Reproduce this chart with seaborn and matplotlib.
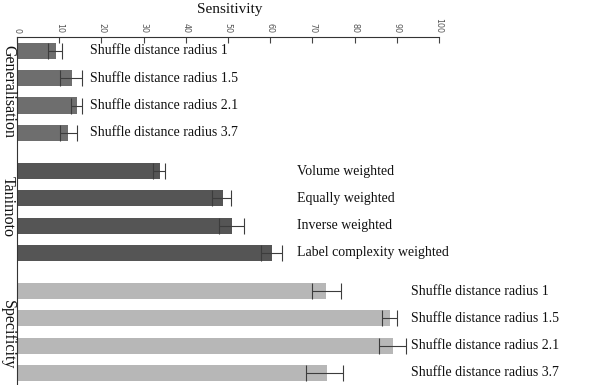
import numpy as np
import pandas as pd
import matplotlib
matplotlib.use("Agg")
import matplotlib.pyplot as plt
import matplotlib.transforms as mtransforms
import seaborn as sns

# Data
groups = ["Generalisation", "Tanimoto", "Specificity"]
gen_labels = ["Shuffle distance radius 1", "Shuffle distance radius 1.5",
              "Shuffle distance radius 2.1", "Shuffle distance radius 3.7"]
tan_labels = ["Volume weighted", "Equally weighted", "Inverse weighted",
              "Label complexity weighted"]
spec_labels = ["Shuffle distance radius 1", "Shuffle distance radius 1.5",
               "Shuffle distance radius 2.1", "Shuffle distance radius 3.7"]

gen_values = [9.2, 13.1, 14.1, 12.2]
gen_lower = [7.3, 10.3, 12.7, 10.3]
gen_upper = [10.7, 15.5, 15.5, 14.1]

tan_values = [34.0, 48.7, 51.0, 60.5]
tan_lower = [32.3, 46.3, 47.9, 57.8]
tan_upper = [35.1, 50.6, 53.9, 62.8]

spec_values = [73.3, 88.5, 89.1, 73.4]
spec_lower = [70.0, 86.4, 85.7, 68.5]
spec_upper = [76.8, 90.1, 92.2, 77.3]

x_ticks = [0, 10, 20, 30, 40, 50, 60, 70, 80, 90, 100]

# build one table, rows stacked group after group with a gap between groups
group_gap = 1.4
rows = []
for gi, (g, labs, vals, lo, hi) in enumerate([
        (groups[0], gen_labels, gen_values, gen_lower, gen_upper),
        (groups[1], tan_labels, tan_values, tan_lower, tan_upper),
        (groups[2], spec_labels, spec_values, spec_lower, spec_upper)]):
    for i in range(len(vals)):
        rows.append({"group": g, "label": labs[i], "value": vals[i],
                     "lower": lo[i], "upper": hi[i],
                     "pos": round(gi * (3 + group_gap) + i, 3)})
df = pd.DataFrame(rows)

sns.set_theme(style="white")
serif = ["Liberation Serif", "DejaVu Serif"]

fig = plt.figure(figsize=(6.07, 3.85), dpi=100)
ax = fig.add_axes([17 / 607, 0.0, 422 / 607, 1 - 37 / 385])

palette = {"Generalisation": "#6e6e6e", "Tanimoto": "#555555", "Specificity": "#b7b7b7"}
sns.barplot(data=df, x="value", y="pos", hue="group", palette=palette, orient="h",
            native_scale=True, dodge=False, width=0.59, errorbar=None,
            legend=False, saturation=1, ax=ax, edgecolor="none")

ax.errorbar(df["value"], df["pos"],
            xerr=[df["value"] - df["lower"], df["upper"] - df["value"]],
            fmt="none", ecolor="#3c3c3c", elinewidth=0.8, capsize=5.5, capthick=0.8)

# bar labels
label_x = {"Generalisation": 17.3, "Tanimoto": 66.4, "Specificity": 93.4}
for _, r in df.iterrows():
    ax.text(label_x[r["group"]], r["pos"], r["label"], ha="left", va="center",
            fontsize=10, family=serif, color="#111111", clip_on=False)

# group labels on the left, reading downwards
trans = mtransforms.blended_transform_factory(fig.transFigure, ax.transData)
shift = {"Generalisation": 0.0, "Tanimoto": -0.2, "Specificity": 0.1}
for g in groups:
    centre = df.loc[df["group"] == g, "pos"].mean() + shift[g]
    ax.text(8 / 607, centre, g, transform=trans, rotation=-90, ha="center",
            va="center", fontsize=11.5, family=serif, color="#111111", clip_on=False)

ax.set_xlim(0, 100)
ax.set_ylim(df["pos"].max() + 0.44, -0.51)
ax.set_xticks(x_ticks)
ax.set_xticklabels([str(t) for t in x_ticks], rotation=-90, fontsize=5.8, color="#555555")
ax.xaxis.tick_top()
ax.tick_params(axis="x", direction="in", length=4, width=0.8, color="#444444", pad=3, top=True)
ax.set_yticks([])
ax.set_xlabel("")
ax.set_ylabel("")
for side in ["right", "bottom"]:
    ax.spines[side].set_visible(False)
for side in ["top", "left"]:
    ax.spines[side].set_color("#333333")
    ax.spines[side].set_linewidth(0.8)

fig.text(230 / 607, 1 - 9 / 385, "Sensitivity", ha="center", va="center",
         fontsize=11, family=serif, color="#111111")

fig.savefig("out.png", dpi=100, facecolor="white")
